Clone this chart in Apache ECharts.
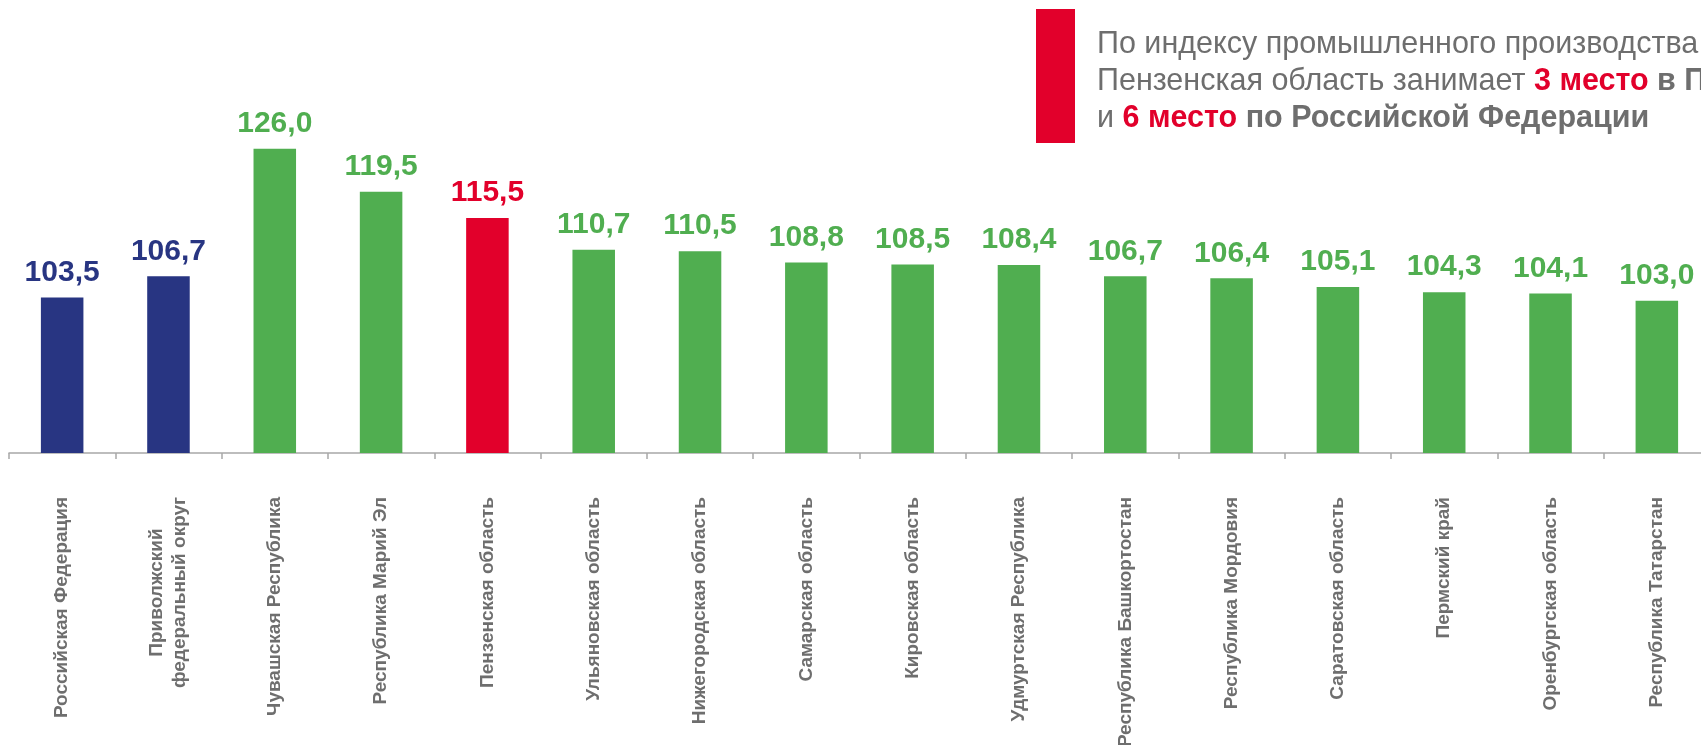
<!DOCTYPE html>
<html>
<head>
<meta charset="utf-8">
<script src="https://cdn.jsdelivr.net/npm/echarts@6/dist/echarts.min.js"></script>
<style>
  html, body { margin: 0; padding: 0; background: #fff; }
  #chart { width: 1701px; height: 745px; }
</style>
</head>
<body>
<div id="chart"></div>
<script>
const categories = [
  "Российская Федерация",
  "Приволжский\nфедеральный округ",
  "Чувашская Республика",
  "Республика Марий Эл",
  "Пензенская область",
  "Ульяновская область",
  "Нижегородская область",
  "Самарская область",
  "Кировская область",
  "Удмуртская Республика",
  "Республика Башкортостан",
  "Республика Мордовия",
  "Саратовская область",
  "Пермский край",
  "Оренбургская область",
  "Республика Татарстан"
];
const values = [103.5, 106.7, 126.0, 119.5, 115.5, 110.7, 110.5, 108.8, 108.5, 108.4, 106.7, 106.4, 105.1, 104.3, 104.1, 103.0];
const aggregates = ["Российская Федерация", "Приволжский\nфедеральный округ"];
const highlighted = "Пензенская область";

const NAVY = "#283582";
const GREEN = "#50ae50";
const RED = "#e2002b";
const GRAY = "#6e6e6e";
const FONT = "Liberation Sans, Arial, sans-serif";

function colorFor(name) {
  if (aggregates.indexOf(name) >= 0) return NAVY;
  if (name === highlighted) return RED;
  return GREEN;
}

const barData = values.map(function (v, i) {
  var c = colorFor(categories[i]);
  return {
    value: v,
    itemStyle: { color: c },
    label: { color: c }
  };
});

const chart = echarts.init(document.getElementById("chart"));

const option = {
  backgroundColor: "#ffffff",
  animation: false,
  textStyle: { fontFamily: FONT },
  grid: {
    left: 9,
    top: 56,
    width: 1701,
    bottom: 292,
    containLabel: false,
    outerBoundsMode: "none"
  },
  xAxis: {
    type: "category",
    data: categories,
    axisLine: { lineStyle: { color: "#a8a8a8", width: 1.5 } },
    axisTick: { show: true, length: 6, lineStyle: { color: "#a8a8a8", width: 1.5 } },
    axisLabel: {
      interval: 0,
      rotate: 90,
      margin: 44,
      color: GRAY,
      fontSize: 19,
      fontWeight: "bold",
      lineHeight: 23,
      fontFamily: FONT,
      // multi-line names are centred line by line, as in the source
      formatter: function (name) {
        return name.split("\n").map(function (s) { return "{c|" + s + "}"; }).join("\n");
      },
      rich: {
        c: {
          align: "center",
          color: GRAY,
          fontSize: 19,
          fontWeight: "bold",
          lineHeight: 23,
          fontFamily: FONT
        }
      }
    }
  },
  yAxis: {
    type: "value",
    min: 80,
    max: 140,
    show: false,
    splitLine: { show: false }
  },
  series: [
    {
      type: "bar",
      data: barData,
      barWidth: "40%",
      label: {
        show: true,
        position: "top",
        distance: 10,
        fontSize: 30,
        fontWeight: "bold",
        fontFamily: FONT,
        formatter: function (p) {
          return p.value.toFixed(1).replace(".", ",");
        }
      }
    }
  ],
  graphic: [
    {
      type: "rect",
      left: 1036,
      top: 9,
      shape: { width: 39, height: 134 },
      style: { fill: RED }
    },
    {
      type: "text",
      left: 1097,
      top: 29,
      style: {
        text: "{n|По индексу промышленного производства}\n" +
          "{n|Пензенская область занимает }{r|3 место}{b| в ПФО}\n" +
          "{n|и }{r|6 место}{b| по Российской Федерации}",
        rich: {
          n: { fontSize: 30.5, fill: GRAY, lineHeight: 37, fontFamily: FONT },
          r: { fontSize: 30.5, fill: RED, fontWeight: "bold", lineHeight: 37, fontFamily: FONT },
          b: { fontSize: 30.5, fill: GRAY, fontWeight: "bold", lineHeight: 37, fontFamily: FONT }
        }
      }
    }
  ]
};

option && chart.setOption(option);
</script>
</body>
</html>
